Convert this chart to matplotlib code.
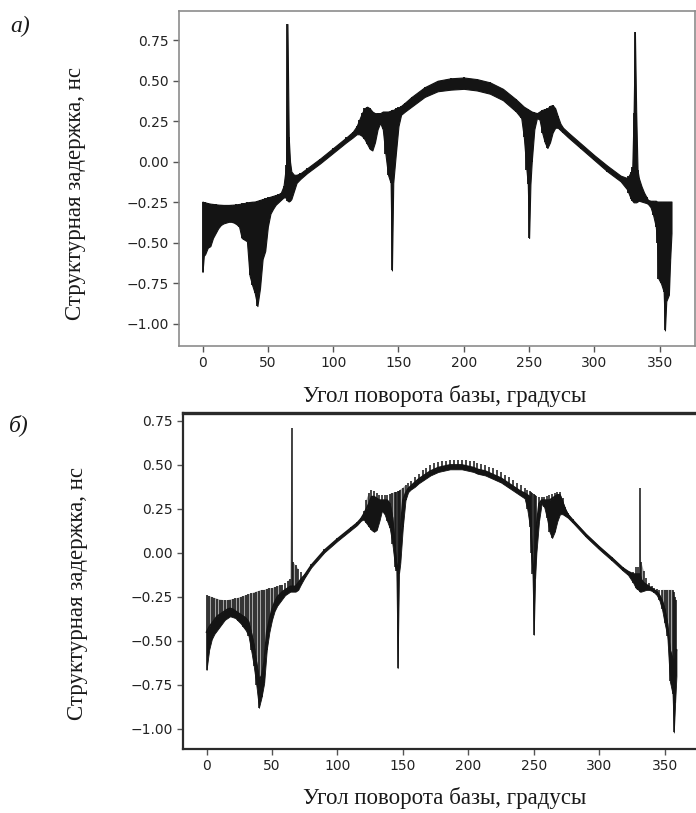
import numpy as np
import matplotlib
matplotlib.use("Agg")
import matplotlib.pyplot as plt

# ---- panel a): envelope of the dense signal (deg, upper, lower) ----
a_deg = ([0, 1] + list(range(2, 63, 2))
         + [64, 65, 66, 67, 68, 70, 72, 75, 80, 90, 100, 110, 115, 118]
         + list(range(120, 145, 2)) + [145, 146, 148, 150, 152, 155, 160]
         + [170, 180, 190, 200, 210, 220, 230, 240]
         + [244, 246, 248, 249, 250, 251, 252, 254, 256, 258, 260, 262, 264, 266, 268, 270, 272, 274, 276]
         + [280, 290, 300, 310, 320, 325, 326, 328, 329, 330, 331, 332, 333, 334, 336, 338, 340]
         + [341, 343, 345, 347, 348, 349, 351, 353, 354, 355, 357, 358, 359])
a_hi = ([-0.245, -0.25, -0.25, -0.255, -0.258, -0.26, -0.262, -0.264, -0.265, -0.266, -0.266,
         -0.266, -0.265, -0.264, -0.262, -0.26, -0.257, -0.254, -0.25, -0.248, -0.246, -0.245,
         -0.24, -0.235, -0.23, -0.225, -0.22, -0.215, -0.21, -0.205, -0.20, -0.19, -0.15]
        + [-0.02, 0.85, 0.15, 0.0, -0.06, -0.08, -0.08, -0.07, -0.04, 0.02, 0.085, 0.15, 0.185, 0.22]
        + [0.26, 0.30, 0.33, 0.34, 0.33, 0.31, 0.30, 0.30, 0.30, 0.31, 0.31, 0.31, 0.315,
           0.32, 0.32, 0.33, 0.335, 0.345, 0.365, 0.40]
        + [0.46, 0.50, 0.515, 0.52, 0.51, 0.49, 0.45, 0.385]
        + [0.355, 0.34, 0.33, 0.325, 0.32, 0.315, 0.31, 0.305, 0.30, 0.31, 0.32, 0.325, 0.33,
           0.345, 0.35, 0.33, 0.28, 0.235, 0.21]
        + [0.18, 0.11, 0.04, -0.025, -0.085, -0.10, -0.09, -0.06, -0.03, 0.30, 0.80, 0.30, -0.05,
           -0.10, -0.15, -0.19, -0.22]
        + [-0.235, -0.24, -0.24, -0.24, -0.245, -0.245, -0.245, -0.245, -0.245, -0.245, -0.245,
           -0.245, -0.245])
a_lo = ([-0.68, -0.58, -0.57, -0.53, -0.52, -0.47, -0.44, -0.41, -0.39, -0.38, -0.375, -0.37,
         -0.37, -0.375, -0.385, -0.40, -0.47, -0.48, -0.49, -0.70, -0.76, -0.81, -0.89, -0.78,
         -0.60, -0.55, -0.40, -0.32, -0.29, -0.265, -0.25, -0.235, -0.22]
        + [-0.22, -0.24, -0.245, -0.24, -0.23, -0.18, -0.13, -0.105, -0.07, -0.01, 0.055, 0.12, 0.15, 0.17]
        + [0.17, 0.16, 0.14, 0.11, 0.08, 0.07, 0.12, 0.20, 0.24, 0.20, 0.05, -0.08, -0.13,
           -0.67, -0.13, 0.05, 0.22, 0.29, 0.31, 0.34]
        + [0.40, 0.435, 0.445, 0.45, 0.44, 0.42, 0.38, 0.31]
        + [0.27, 0.15, -0.05, -0.14, -0.47, -0.14, 0.0, 0.2, 0.27, 0.26, 0.18, 0.12, 0.085,
           0.12, 0.18, 0.21, 0.21, 0.195, 0.18]
        + [0.15, 0.08, 0.01, -0.06, -0.12, -0.17, -0.19, -0.23, -0.24, -0.25, -0.25, -0.25,
           -0.245, -0.24, -0.245, -0.25, -0.255]
        + [-0.26, -0.28, -0.33, -0.40, -0.50, -0.72, -0.75, -0.80, -1.04, -0.86, -0.82, -0.60, -0.44])

# ---- panel б): sparser samples (deg, stroke top, solid-core top, bottom) ----
b_deg = (list(range(0, 65, 2))
         + [65, 66, 68, 70, 72, 75, 80, 90, 100, 110, 115, 118]
         + list(range(120, 145, 2)) + [145, 146, 147] + list(range(148, 157, 2))
         + list(range(159, 244, 3))
         + [245, 247, 248, 249, 250, 251, 252]
         + [254, 256, 258, 260, 262, 264, 266, 268, 270, 272, 274, 276]
         + [280, 290, 300, 310, 318, 322, 326, 328, 330, 331, 332]
         + [334, 336, 338, 340, 342, 344, 346, 348, 350, 352, 354, 356, 357, 358, 359])
b_hi = ([-0.24, -0.245, -0.25, -0.255, -0.26, -0.265, -0.267, -0.268, -0.268, -0.265, -0.262,
         -0.258, -0.255, -0.25, -0.245, -0.24, -0.235, -0.23, -0.225, -0.22, -0.215, -0.21,
         -0.21, -0.205, -0.20, -0.20, -0.195, -0.19, -0.185, -0.18, -0.17, -0.16, -0.15]
        + [0.71, -0.05, -0.07, -0.09, -0.11, -0.12, -0.065, 0.02, 0.085, 0.145, 0.175, 0.20]
        + [0.24, 0.30, 0.34, 0.36, 0.35, 0.34, 0.33, 0.33, 0.33, 0.33, 0.335, 0.34, 0.345,
           0.345, 0.35, 0.35, 0.36, 0.37, 0.385, 0.40, 0.41]
        + [0.43, 0.45, 0.47, 0.48, 0.50, 0.51, 0.515, 0.52, 0.525, 0.53, 0.53, 0.53, 0.53, 0.53,
           0.525, 0.52, 0.51, 0.505, 0.50, 0.49, 0.48, 0.47, 0.46, 0.445, 0.43, 0.415, 0.40,
           0.385, 0.37]
        + [0.36, 0.35, 0.345, 0.34, 0.335, 0.33, 0.325]
        + [0.32, 0.315, 0.32, 0.325, 0.33, 0.335, 0.34, 0.345, 0.345, 0.31, 0.26, 0.225]
        + [0.19, 0.11, 0.04, -0.025, -0.08, -0.10, -0.11, -0.08, -0.08, 0.37, -0.05]
        + [-0.10, -0.14, -0.17, -0.19, -0.20, -0.205, -0.21, -0.21, -0.21, -0.21, -0.21, -0.21,
           -0.22, -0.25, -0.27])
b_mid = ([-0.45, -0.42, -0.40, -0.38, -0.36, -0.35, -0.34, -0.33, -0.32, -0.315, -0.32, -0.33,
          -0.34, -0.35, -0.36, -0.37, -0.39, -0.45, -0.52, -0.62, -0.72, -0.70, -0.62, -0.45,
          -0.38, -0.32, -0.28, -0.25, -0.235, -0.22, -0.21, -0.20, -0.19]
         + [-0.19, -0.19, -0.19, -0.17, -0.15, -0.125, -0.07, 0.015, 0.08, 0.14, 0.17, 0.195]
         + [0.22, 0.25, 0.28, 0.32, 0.32, 0.31, 0.30, 0.30, 0.30, 0.30, 0.28, 0.20, 0.02,
            -0.06, -0.10, -0.05, 0.12, 0.30, 0.34, 0.365, 0.38]
         + [0.40, 0.42, 0.435, 0.45, 0.465, 0.475, 0.485, 0.49, 0.495, 0.50, 0.50, 0.50, 0.50,
            0.495, 0.49, 0.485, 0.475, 0.47, 0.465, 0.455, 0.445, 0.435, 0.425, 0.41, 0.395,
            0.38, 0.365, 0.35, 0.34]
         + [0.33, 0.32, 0.10, -0.05, -0.12, -0.05, 0.15]
         + [0.28, 0.30, 0.30, 0.30, 0.30, 0.31, 0.32, 0.33, 0.33, 0.29, 0.25, 0.22]
         + [0.185, 0.105, 0.035, -0.03, -0.085, -0.105, -0.12, -0.12, -0.12, -0.12, -0.15]
         + [-0.17, -0.18, -0.19, -0.20, -0.21, -0.22, -0.24, -0.27, -0.32, -0.40, -0.55, -0.60,
            -0.62, -0.60, -0.55])
b_lo = ([-0.665, -0.55, -0.49, -0.46, -0.44, -0.42, -0.40, -0.38, -0.37, -0.36, -0.365, -0.37,
         -0.385, -0.40, -0.42, -0.44, -0.47, -0.55, -0.64, -0.75, -0.88, -0.82, -0.74, -0.55,
         -0.45, -0.38, -0.33, -0.30, -0.28, -0.26, -0.24, -0.23, -0.22]
        + [-0.22, -0.22, -0.22, -0.21, -0.18, -0.14, -0.082, 0.003, 0.068, 0.128, 0.158, 0.183]
        + [0.19, 0.17, 0.15, 0.13, 0.12, 0.13, 0.18, 0.24, 0.22, 0.18, 0.14, 0.05, -0.08,
           -0.10, -0.655, -0.12, -0.06, 0.15, 0.30, 0.345, 0.36]
        + [0.375, 0.395, 0.41, 0.425, 0.44, 0.45, 0.46, 0.465, 0.47, 0.475, 0.475, 0.475, 0.475,
           0.47, 0.465, 0.46, 0.45, 0.445, 0.44, 0.43, 0.42, 0.41, 0.40, 0.385, 0.37, 0.355,
           0.34, 0.325, 0.31]
        + [0.25, 0.15, 0.0, -0.12, -0.465, -0.15, 0.0]
        + [0.18, 0.28, 0.26, 0.20, 0.12, 0.085, 0.12, 0.18, 0.22, 0.22, 0.21, 0.20]
        + [0.17, 0.09, 0.02, -0.045, -0.10, -0.125, -0.17, -0.20, -0.21, -0.22, -0.22]
        + [-0.215, -0.21, -0.21, -0.215, -0.225, -0.24, -0.27, -0.32, -0.40, -0.47, -0.73,
           -0.80, -1.02, -0.85, -0.70])

x_ticks = [0, 50, 100, 150, 200, 250, 300, 350]
y_ticks = [-1.00, -0.75, -0.50, -0.25, 0.00, 0.25, 0.50, 0.75]
y_label = "Структурная задержка, нс"
x_label = "Угол поворота базы, градусы"

ink = "#141414"
serif = ["Liberation Serif", "DejaVu Serif"]
W, H = 696, 813

fig = plt.figure(figsize=(W / 100, H / 100), dpi=100)
ax1 = fig.add_axes([179 / W, 1 - 346 / H, 516 / W, 335 / H])
ax2 = fig.add_axes([183 / W, 1 - 749 / H, 517 / W, 336 / H])

# panel a - solid band
ax1.fill_between(a_deg, a_lo, a_hi, color=ink, lw=0.8)
ax1.vlines(a_deg, a_lo, a_hi, color=ink, lw=1.3)
ax1.set_ylim(-1.136, 0.93)

# panel b - strokes with solid core; grey haze where strokes are dense
wide = (np.array(b_hi) - np.array(b_mid)) > 0.04
ax2.fill_between(b_deg, b_mid, b_hi, where=wide, color="#a4a4a4", lw=0)
ax2.vlines(b_deg, b_lo, b_hi, color=ink, lw=1.1)
ax2.fill_between(b_deg, b_lo, b_mid, color=ink, lw=0.6)
ax2.plot(b_deg, b_mid, color=ink, lw=1.2)
ax2.set_ylim(-1.114, 0.795)

for ax, spine_col, slw in ((ax1, "#8c8c8c", 1.2), (ax2, "#2a2a2a", 1.6)):
    ax.set_xlim(-18, 377)
    ax.set_xticks(x_ticks)
    ax.set_yticks(y_ticks)
    ax.set_yticklabels([f"{v:.2f}".replace("-", "\u2212") for v in y_ticks])
    ax.tick_params(direction="out", length=4.5, width=1.0, color="#555555",
                   labelsize=10, labelcolor="#222222", pad=3)
    for s in ax.spines.values():
        s.set_color(spine_col)
        s.set_linewidth(slw)
ax2.spines["top"].set_linewidth(2.4)

for yc in (396, 798):
    fig.text(445 / W, 1 - yc / H, x_label, ha="center", va="center",
             fontsize=16.5, family=serif, color="#1a1a1a")
for xc, yc in ((76, 193), (78, 594)):
    fig.text(xc / W, 1 - yc / H, y_label, ha="center", va="center", rotation=90,
             fontsize=16.5, family=serif, color="#1a1a1a")

fig.text(20 / W, 1 - 26 / H, "а)", ha="center", va="center", fontsize=17,
         family=serif, style="italic", color="#1a1a1a")
fig.text(19 / W, 1 - 425 / H, "б)", ha="center", va="center", fontsize=17,
         family=serif, style="italic", color="#1a1a1a")

fig.savefig("out.png", dpi=100)
